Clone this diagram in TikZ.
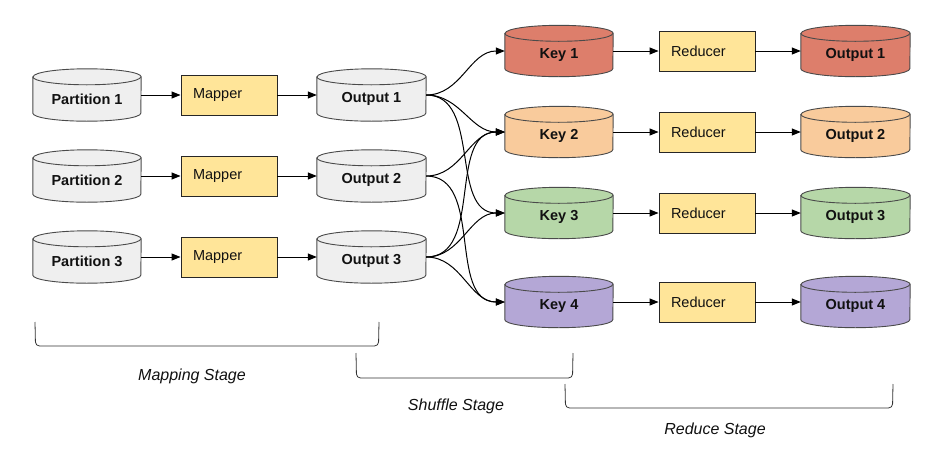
\documentclass[tikz,border=0pt]{standalone}
\usepackage{fontspec}
\setmainfont{Liberation Sans}
\usetikzlibrary{arrows.meta}
\definecolor{cgray}{HTML}{EFEFEF}
\definecolor{cred}{HTML}{DD7E6B}
\definecolor{corange}{HTML}{F9CB9C}
\definecolor{cgreen}{HTML}{B6D7A8}
\definecolor{cpurple}{HTML}{B4A7D6}
\definecolor{cyellow}{HTML}{FFE599}
\definecolor{cborder}{HTML}{4A4A4A}
\definecolor{ctext}{HTML}{111111}
\tikzset{
  cylbox/.style={rectangle, inner sep=0pt, minimum width=#1},
  cylline/.style={draw=cborder, line width=0.9pt},
  cyltext/.style={font=\fontsize{14.5}{16}\selectfont\bfseries, text=ctext, inner sep=0pt},
  procbox/.style={rectangle, draw=black!85, line width=0.9pt, fill=cyellow,
    minimum height=40pt, text width=72pt, inner xsep=12pt, inner ysep=0pt, align=left,
    font=\fontsize{14.5}{16}\selectfont, text=ctext},
  flow/.style={draw=black, line width=1pt, -{Triangle[length=9pt,width=7pt]}},
  bracket/.style={draw=black!80, line width=0.8pt, rounded corners=4pt},
  stagelabel/.style={font=\fontsize{16}{18}\selectfont\itshape, text=ctext, inner sep=0pt}
}
% #1 name, #2 cx, #3 cy, #4 width, #5 height, #6 fill, #7 text
\newcommand\mycyl[7]{%
  \node[cylbox=#4pt, minimum height=#5pt] (#1) at (#2,#3) {};
  \draw[cylline, fill=#6] ([yshift=-8pt]#1.north west) -- ([yshift=8pt]#1.south west)
    arc[start angle=180, end angle=360, x radius={0.5*#4pt}, y radius=8pt]
    -- ([yshift=-8pt]#1.north east)
    arc[start angle=0, end angle=180, x radius={0.5*#4pt}, y radius=8pt] -- cycle;
  \draw[cylline] ([yshift=-8pt]#1.north west)
    arc[start angle=180, end angle=360, x radius={0.5*#4pt}, y radius=8pt];
  \node[cyltext] at ([yshift=-4pt]#1.center) {#7};
}
\begin{document}
\begin{tikzpicture}[x=1pt, y=-1pt]
\useasboundingbox[fill=white] (0,0) rectangle (951,469);

% Mapping stage
\mycyl{p1}{87}{95}{108}{52}{cgray}{Partition 1}
\mycyl{p2}{87}{176}{108}{52}{cgray}{Partition 2}
\mycyl{p3}{87}{257}{108}{52}{cgray}{Partition 3}
\node[procbox] (m1) at (229,95) {Mapper};
\node[procbox] (m2) at (229,176) {Mapper};
\node[procbox] (m3) at (229,257) {Mapper};
\mycyl{o1}{371.5}{95}{109}{52}{cgray}{Output 1}
\mycyl{o2}{371.5}{176}{109}{52}{cgray}{Output 2}
\mycyl{o3}{371.5}{257}{109}{52}{cgray}{Output 3}

\foreach \i in {1,2,3}{
  \draw[flow] (p\i.east) -- (m\i.west);
  \draw[flow] (m\i.east) -- (o\i.west);
}

% Keys
\mycyl{k1}{559}{51}{108}{51}{cred}{Key 1}
\mycyl{k2}{559}{132}{108}{51}{corange}{Key 2}
\mycyl{k3}{559}{213}{108}{51}{cgreen}{Key 3}
\mycyl{k4}{559}{302}{108}{51}{cpurple}{Key 4}

\node[procbox] (r1) at (707,51) {Reducer};
\node[procbox] (r2) at (707,132) {Reducer};
\node[procbox] (r3) at (707,213) {Reducer};
\node[procbox] (r4) at (707,302) {Reducer};

\mycyl{q1}{855.5}{51}{109}{51}{cred}{Output 1}
\mycyl{q2}{855.5}{132}{109}{51}{corange}{Output 2}
\mycyl{q3}{855.5}{213}{109}{51}{cgreen}{Output 3}
\mycyl{q4}{855.5}{302}{109}{51}{cpurple}{Output 4}

\foreach \i in {1,2,3,4}{
  \draw[flow] (k\i.east) -- (r\i.west);
  \draw[flow] (r\i.east) -- (q\i.west);
}

% Shuffle
\foreach \a/\b in {1/1,1/2,1/3,2/2,2/4,3/2,3/3,3/4}{
  \draw[flow] (o\a.east) to[out=0, in=180] (k\b.west);
}

% Brackets
\draw[bracket] (35,322) -- (35.5,346) -- (378.5,346) -- (379,322);
\draw[bracket] (356,353) -- (356.5,378) -- (572.5,378) -- (573,353);
\draw[bracket] (565,384) -- (565.5,408) -- (892.5,408) -- (893,384);

\node[stagelabel] (ls1) at (192,376) {Mapping Stage};
\node[stagelabel] (ls2) at (456,406) {Shuffle Stage};
\node[stagelabel] (ls3) at (715,430) {Reduce Stage};
\end{tikzpicture}
\end{document}
